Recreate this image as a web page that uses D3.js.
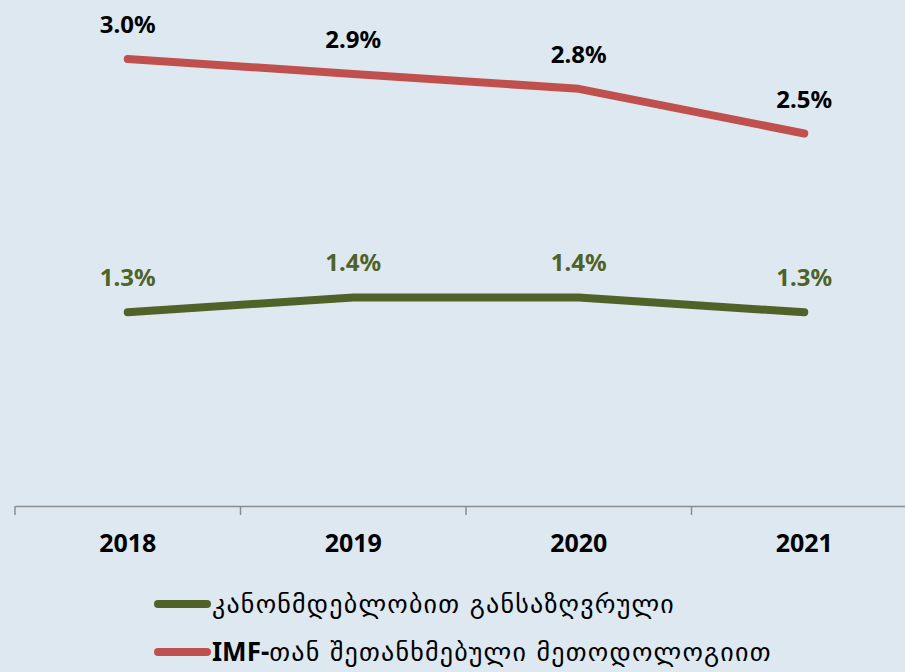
<!DOCTYPE html>
<html>
<head>
<meta charset="utf-8">
<script src="https://cdn.jsdelivr.net/npm/d3@7"></script>
<style>
  body { margin: 0; background: #dee8f0; }
  svg { display: block; }
</style>
</head>
<body>
<svg id="chart"></svg>
<script>
// chart data
var years = ["2018", "2019", "2020", "2021"];
var legalValues = [1.3, 1.4, 1.4, 1.3];
var imfValues = [3.0, 2.9, 2.8, 2.5];
var seriesNames = ["კანონმდებლობით განსაზღვრული", "IMF-თან შეთანხმებული მეთოდოლოგიით"];

var width = 905, height = 672;
var green = "#4f6228", red = "#c0504d";

var svg = d3.select("#chart").attr("width", width).attr("height", height);
svg.append("rect").attr("width", width).attr("height", height).attr("fill", "#dee8f0");

var x = d3.scaleBand().domain(years).range([15, 917]).padding(0);
var y = d3.scaleLinear().domain([0, 3]).range([506, 59]);
var cx = function(d, i) { return x(years[i]) + x.bandwidth() / 2; };

// x axis
var axis = svg.append("g")
  .attr("transform", "translate(0,506)")
  .call(d3.axisBottom(x).tickSize(0).tickFormat(""));
axis.select(".domain").attr("stroke", "#8c8c8c").attr("stroke-width", 1.5);
var edges = years.map(function(d) { return x(d); }).concat([x(years[3]) + x.bandwidth()]);
axis.selectAll(".edge").data(edges).enter().append("line")
  .attr("x1", function(d) { return d; }).attr("x2", function(d) { return d; })
  .attr("y1", 0).attr("y2", 9)
  .attr("stroke", "#8c8c8c").attr("stroke-width", 1.5);

svg.selectAll(".year").data(years).enter().append("text")
  .attr("x", function(d) { return x(d) + x.bandwidth() / 2; })
  .attr("y", 552)
  .attr("text-anchor", "middle")
  .style("font-family", "'Noto Sans', sans-serif")
  .style("font-weight", "bold")
  .style("font-size", "25px")
  .attr("fill", "#000")
  .text(function(d) { return d; });

// lines
var line = d3.line().x(cx).y(function(d) { return y(d); });

function drawSeries(values, color, labelColor) {
  svg.append("path").datum(values)
    .attr("d", line)
    .attr("fill", "none")
    .attr("stroke", color)
    .attr("stroke-width", 8)
    .attr("stroke-linecap", "round")
    .attr("stroke-linejoin", "round");
  svg.selectAll(null).data(values).enter().append("text")
    .attr("x", cx)
    .attr("y", function(d) { return y(d) - 26; })
    .attr("text-anchor", "middle")
    .style("font-family", "'Noto Sans', sans-serif")
    .style("font-weight", "bold")
    .style("font-size", "24px")
    .attr("fill", labelColor)
    .text(function(d) { return d.toFixed(1) + "%"; });
}
drawSeries(imfValues, red, "#000");
drawSeries(legalValues, green, green);

// legend
var legend = svg.append("g");
[[green, seriesNames[0], 604], [red, seriesNames[1], 652]].forEach(function(s) {
  legend.append("line")
    .attr("x1", 158).attr("x2", 207)
    .attr("y1", s[2]).attr("y2", s[2])
    .attr("stroke", s[0]).attr("stroke-width", 8)
    .attr("stroke-linecap", "round");
  var t = legend.append("text")
    .attr("x", 212).attr("y", s[2] + 9)
    .style("font-family", "'DejaVu Sans', sans-serif")
    .style("font-size", "26px")
    .style("letter-spacing", "1.2px")
    .attr("fill", "#000");
  if (s[1].indexOf("IMF-") === 0) {
    t.append("tspan").style("font-family", "'Noto Sans', sans-serif")
      .style("font-weight", "bold").style("letter-spacing", "0px").text("IMF-");
    t.append("tspan").text(s[1].slice(4));
  } else {
    t.text(s[1]);
  }
});
</script>
</body>
</html>
